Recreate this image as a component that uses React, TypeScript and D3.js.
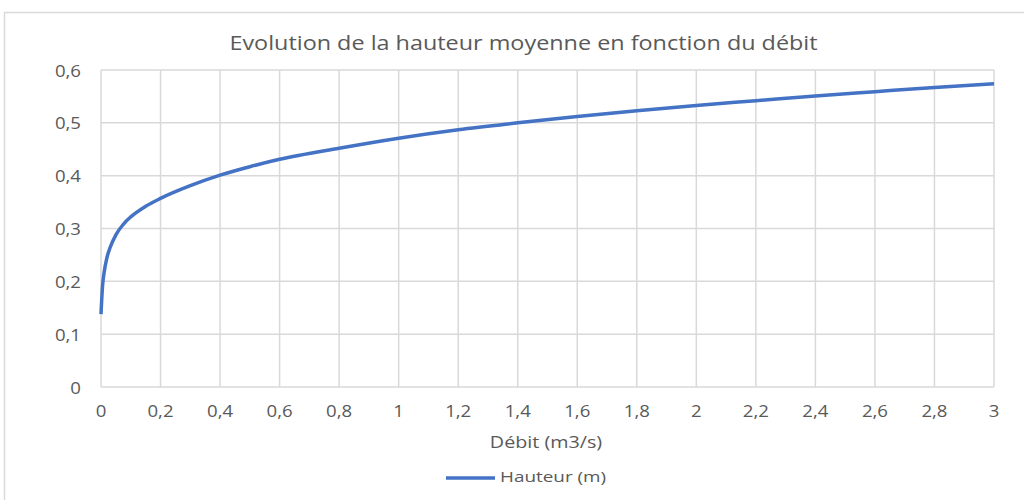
import React from 'react';
import * as d3 from 'd3';

// débit (m3/s) and hauteur moyenne (m)
const debit = [0, 0.005, 0.01, 0.02, 0.03, 0.05, 0.075, 0.1, 0.15, 0.2, 0.3, 0.4, 0.5, 0.6, 0.8, 1, 1.2, 1.4, 1.6, 1.8, 2, 2.2, 2.4, 2.6, 2.8, 3];
const hauteur = [0.138, 0.19, 0.215, 0.245, 0.263, 0.288, 0.308, 0.322, 0.342, 0.357, 0.381, 0.401, 0.417, 0.431, 0.452, 0.471, 0.487, 0.5, 0.512, 0.523, 0.533, 0.542, 0.551, 0.559, 0.567, 0.574];
const xTicks = [0, 0.2, 0.4, 0.6, 0.8, 1, 1.2, 1.4, 1.6, 1.8, 2, 2.2, 2.4, 2.6, 2.8, 3];
const yTicks = [0, 0.1, 0.2, 0.3, 0.4, 0.5, 0.6];

const title = 'Evolution de la hauteur moyenne en fonction du débit';
const xTitle = 'Débit (m3/s)';
const seriesName = 'Hauteur (m)';

const fmt = (v: number) => String(v).replace('.', ',');
const font = "'Open Sans', sans-serif";
const grey = '#595959';

// text stretched horizontally a bit, the original font is wider than Open Sans
function Txt(props: { x: number; y: number; size: number; sx?: number; anchor?: string; children: React.ReactNode }) {
  const sx = props.sx ?? 1.2;
  return (
    <g transform={`translate(${props.x},${props.y}) scale(${sx},1)`}>
      <text textAnchor={props.anchor || 'start'} fontFamily={font} fontSize={props.size} fill={grey}>{props.children}</text>
    </g>
  );
}

export default function App() {
  const width = 1024, height = 500;
  const x = d3.scaleLinear().domain([0, 3]).range([101, 994]);
  const y = d3.scaleLinear().domain([0, 0.6]).range([387, 70]);

  const points = debit.map((d, i) => [d, hauteur[i]] as [number, number]);
  const line = d3.line<[number, number]>()
    .x(d => x(d[0]))
    .y(d => y(d[1]))
    .curve(d3.curveMonotoneX);

  return (
    <svg width={width} height={height} style={{ position: 'absolute', left: 0, top: 0, background: '#fff' }}>
      <rect x={4.5} y={12.5} width={1030} height={500} fill="#fff" stroke="#d9d9d9" strokeWidth={1.5} />
      <Txt x={523.5} y={50} size={20} sx={1.17} anchor="middle">{title}</Txt>

      {/* grid */}
      {xTicks.map(t => (
        <line key={'gx' + t} x1={x(t)} x2={x(t)} y1={y(0.6)} y2={y(0)} stroke="#d9d9d9" strokeWidth={1.5} />
      ))}
      {yTicks.map(t => (
        <line key={'gy' + t} x1={x(0)} x2={x(3)} y1={y(t)} y2={y(t)} stroke="#d9d9d9" strokeWidth={1.5} />
      ))}

      {/* y labels */}
      {yTicks.map(t => (
        <Txt key={'yl' + t} x={81} y={y(t) + 6.5} size={15.5} anchor="end">{fmt(t)}</Txt>
      ))}
      {/* x labels */}
      {xTicks.map(t => (
        <Txt key={'xl' + t} x={x(t)} y={417} size={15.5} anchor="middle">{fmt(t)}</Txt>
      ))}
      <Txt x={546} y={448} size={17} sx={1.16} anchor="middle">{xTitle}</Txt>

      <path d={line(points) || ''} fill="none" stroke="#4472C4" strokeWidth={3.5} strokeLinejoin="round" />

      {/* legend */}
      <line x1={446} x2={495} y1={478} y2={478} stroke="#4472C4" strokeWidth={3.5} />
      <Txt x={500} y={482} size={15} sx={1.26}>{seriesName}</Txt>
    </svg>
  );
}
